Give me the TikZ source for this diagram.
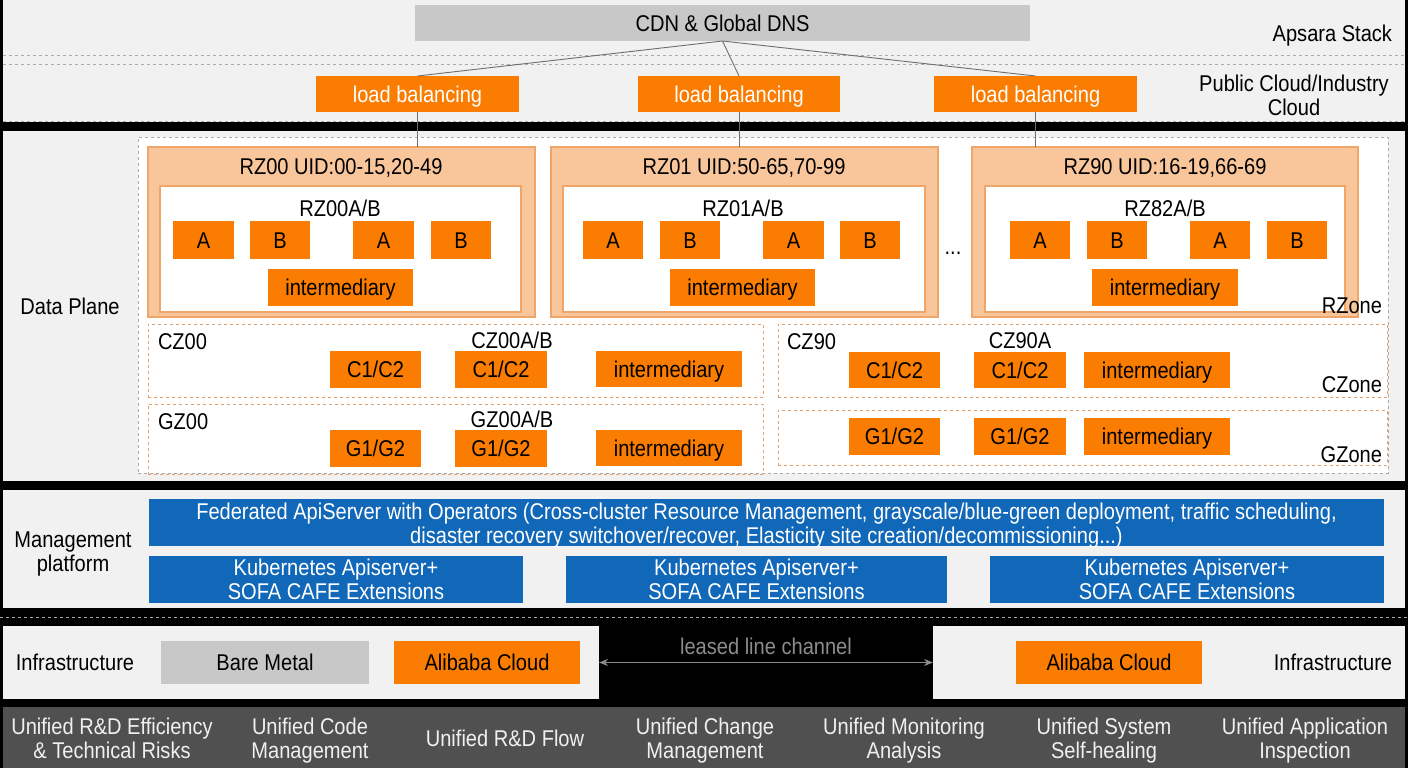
\documentclass[tikz,border=0pt]{standalone}
\usepackage{fontspec}
\setmainfont[FakeStretch=0.88]{Liberation Sans}
\usetikzlibrary{arrows.meta}
\definecolor{panel}{RGB}{241,241,241}
\definecolor{org}{RGB}{250,124,0}
\definecolor{lorg}{RGB}{249,198,156}
\definecolor{lorgb}{RGB}{240,165,105}
\definecolor{blu}{RGB}{17,103,184}
\definecolor{cdngray}{RGB}{200,200,200}
\definecolor{barcol}{RGB}{80,80,80}
\definecolor{dsh}{RGB}{170,170,170}
\definecolor{odsh}{RGB}{225,160,110}
\definecolor{linkcol}{RGB}{110,110,110}
\definecolor{leased}{RGB}{140,140,140}
\newcommand\bx[7]{\node[#1, minimum width={(#5)-(#3)}, minimum height={(#6)-(#4)}] (#2) at ({((#3)+(#5))/2},{((#4)+(#6))/2}) {#7};}
\tikzset{
 every node/.style={font=\fontsize{22.8}{24}\selectfont, inner sep=0pt, outer sep=0pt},
 capc/.style={text height=16.3pt, text depth=0pt},
 panelbox/.style={fill=panel, draw=none},
 obox/.style={fill=org, draw=none, text=black, capc},
 lbbox/.style={fill=org, draw=none, text=white, capc},
 gbox/.style={fill=cdngray, draw=none, text=black, capc},
 bbox/.style={fill=blu, draw=none, text=white, align=center},
 btxt/.style={text=white, align=center},
 rzbox/.style={fill=lorg, draw=lorgb, line width=1.2pt},
 inbox/.style={fill=white, draw=lorgb, line width=1.2pt},
 zonebox/.style={draw=odsh, dashed, line width=1pt},
 outerdash/.style={fill=white, draw=dsh, dashed, line width=1pt},
 lbl/.style={text=black, capc},
 lbltwo/.style={text=black, align=center},
 barlbl/.style={text=white!94!black, align=center},
 link/.style={draw=linkcol, line width=0.9pt},
 hdash/.style={draw=dsh, dashed, line width=1pt},
}
\begin{document}
\begin{tikzpicture}[x=1pt,y=-1pt]
\useasboundingbox (0,0) rectangle (1408,768);
\fill[black] (0,0) rectangle (1408,768);
% panels
\bx{panelbox}{toppanel}{3}{0}{1405}{122}{}
\bx{panelbox}{datapanel}{3}{131}{1405}{481}{}
\bx{panelbox}{mgmtpanel}{3}{490}{1405}{608}{}
\bx{panelbox}{infL}{3}{626}{599}{699}{}
\bx{panelbox}{infR}{933}{626}{1405}{699}{}
\bx{fill=barcol}{bottombar}{3}{707}{1405}{768}{}
\draw[hdash] (toppanel.west |- 0,56) -- (toppanel.east |- 0,56);
\draw[hdash] (toppanel.west |- 0,65) -- (toppanel.east |- 0,65);
\draw[hdash] (toppanel.west |- 0,121) -- (toppanel.east |- 0,121);
\draw[hdash] (0,617) -- (1408,617);
% top
\bx{gbox}{cdn}{415}{5}{1030}{41}{CDN \& Global DNS}
\bx{lbbox}{lb1}{316}{76}{519}{112}{load balancing}
\bx{lbbox}{lb2}{638}{76}{840}{112}{load balancing}
\bx{lbbox}{lb3}{934}{76}{1137}{112}{load balancing}
\node[lbl, anchor=east] (apsara) at (1392,33) {Apsara Stack};
\node[lbltwo] (pubcloud) at (1294,95) {Public Cloud/Industry\\Cloud};
% data plane
\bx{outerdash}{dp}{138}{137}{1388}{473}{}
\node[lbl] (dplbl) at (70,306) {Data Plane};
\bx{rzbox}{rz0}{148}{147}{535}{317}{}
\bx{rzbox}{rz1}{551}{147}{938}{317}{}
\bx{rzbox}{rz9}{972}{147}{1358}{317}{}
\draw[link] (cdn.south) -- (lb1.north);
\draw[link] (cdn.south) -- (lb2.north);
\draw[link] (cdn.south) -- (lb3.north);
\draw[link] (lb1.south) -- (lb1.south |- rz0.north);
\draw[link] (lb2.south) -- (lb2.south |- rz1.north);
\draw[link] (lb3.south) -- (lb3.south |- rz9.north);
% RZ00
\node[lbl] (rz0t) at (341,166) {RZ00 UID:00-15,20-49};
\bx{inbox}{rz0i}{160}{186}{521}{312}{}
\node[lbl] (rz0s) at (340,208) {RZ00A/B};
\bx{obox}{rz0a1}{173}{221}{234}{259}{A}
\bx{obox}{rz0b1}{250}{221}{310}{259}{B}
\bx{obox}{rz0a2}{353}{221}{414}{259}{A}
\bx{obox}{rz0b2}{431}{221}{491}{259}{B}
\bx{obox}{rz0m}{268}{269}{413}{306}{intermediary}
% RZ01
\node[lbl] (rz1t) at (744,166) {RZ01 UID:50-65,70-99};
\bx{inbox}{rz1i}{563}{186}{925}{312}{}
\node[lbl] (rz1s) at (743,208) {RZ01A/B};
\bx{obox}{rz1a1}{583}{221}{643}{259}{A}
\bx{obox}{rz1b1}{660}{221}{720}{259}{B}
\bx{obox}{rz1a2}{763}{221}{824}{259}{A}
\bx{obox}{rz1b2}{840}{221}{900}{259}{B}
\bx{obox}{rz1m}{670}{269}{815}{306}{intermediary}
% dots
\node[text=black] (dots) at (953,253) {...};
% RZ90
\node[lbl] (rz9t) at (1165,166) {RZ90 UID:16-19,66-69};
\bx{inbox}{rz9i}{985}{186}{1345}{312}{}
\node[lbl] (rz9s) at (1165,208) {RZ82A/B};
\bx{obox}{rz9a1}{1010}{221}{1070}{259}{A}
\bx{obox}{rz9b1}{1087}{221}{1147}{259}{B}
\bx{obox}{rz9a2}{1190}{221}{1250}{259}{A}
\bx{obox}{rz9b2}{1267}{221}{1327}{259}{B}
\bx{obox}{rz9m}{1092}{269}{1238}{306}{intermediary}
\node[lbl, anchor=east] (rzone) at (1382,305) {RZone};
% CZ / GZ
\bx{zonebox}{cz0}{148}{324}{763}{397}{}
\bx{zonebox}{gz0}{148}{404}{763}{474}{}
\bx{zonebox}{cz9}{778}{324}{1387}{397}{}
\bx{zonebox}{gz9}{778}{410}{1387}{465}{}
\node[lbl, anchor=west] (cz0l) at (158,341) {CZ00};
\node[lbl] (cz0s) at (512,340) {CZ00A/B};
\bx{obox}{cz0c1}{330}{351}{421}{388}{C1/C2}
\bx{obox}{cz0c2}{455}{351}{547}{388}{C1/C2}
\bx{obox}{cz0m}{596}{351}{742}{387}{intermediary}
\node[lbl, anchor=west] (gz0l) at (158,421) {GZ00};
\node[lbl] (gz0s) at (512,419) {GZ00A/B};
\bx{obox}{gz0g1}{330}{430}{421}{467}{G1/G2}
\bx{obox}{gz0g2}{455}{430}{547}{467}{G1/G2}
\bx{obox}{gz0m}{596}{430}{742}{466}{intermediary}
\node[lbl, anchor=west] (cz9l) at (787,341) {CZ90};
\node[lbl] (cz9s) at (1020,340) {CZ90A};
\bx{obox}{cz9c1}{849}{352}{940}{388}{C1/C2}
\bx{obox}{cz9c2}{974}{352}{1066}{388}{C1/C2}
\bx{obox}{cz9m}{1084}{352}{1230}{388}{intermediary}
\bx{obox}{gz9g1}{849}{418}{940}{455}{G1/G2}
\bx{obox}{gz9g2}{974}{418}{1066}{455}{G1/G2}
\bx{obox}{gz9m}{1084}{418}{1230}{455}{intermediary}
\node[lbl, anchor=east] (czone) at (1382,384) {CZone};
\node[lbl, anchor=east] (gzone) at (1382,454) {GZone};
% management
\node[lbltwo] (mgmtl) at (73,554.5) {Management\\platform};
\bx{bbox}{fed}{149}{499}{1384}{546}{}
\node[btxt] (fedtxt) at ([yshift=-3pt]fed.center) {Federated ApiServer with Operators (Cross-cluster Resource Management, grayscale/blue-green deployment, traffic scheduling,\\disaster recovery switchover/recover, Elasticity site creation/decommissioning...)};
\bx{bbox}{k1}{149}{556}{523}{603}{Kubernetes Apiserver+\\SOFA CAFE Extensions}
\bx{bbox}{k2}{566}{556}{947}{603}{Kubernetes Apiserver+\\SOFA CAFE Extensions}
\bx{bbox}{k3}{990}{556}{1384}{603}{Kubernetes Apiserver+\\SOFA CAFE Extensions}
% infrastructure
\node[lbl] (infLl) at (75,662) {Infrastructure};
\bx{gbox}{bare}{161}{641}{369}{684}{Bare Metal}
\bx{obox}{ali1}{394}{641}{580}{684}{Alibaba Cloud}
\bx{obox}{ali2}{1016}{641}{1202}{684}{Alibaba Cloud}
\node[lbl] (infRl) at (1333,662) {Infrastructure};
\draw[draw=leased, line width=1pt, {Stealth[length=9pt,width=7pt]}-{Stealth[length=9pt,width=7pt]}] (infL.east) -- (infR.west);
\node[text=leased, capc] (leasedl) at (766,646) {leased line channel};
% bottom bar
\node[barlbl] (u1) at (112,738) {Unified R\&D Efficiency\\\& Technical Risks};
\node[barlbl] (u2) at (310,740.5) {Unified Code\\Management};
\node[barlbl] (u3) at (505,738) {Unified R\&D Flow};
\node[barlbl] (u4) at (705,740.5) {Unified Change\\Management};
\node[barlbl] (u5) at (904,740.5) {Unified Monitoring\\Analysis};
\node[barlbl] (u6) at (1104,740.5) {Unified System\\Self-healing};
\node[barlbl] (u7) at (1305,740.5) {Unified Application\\Inspection};
\end{tikzpicture}
\end{document}
